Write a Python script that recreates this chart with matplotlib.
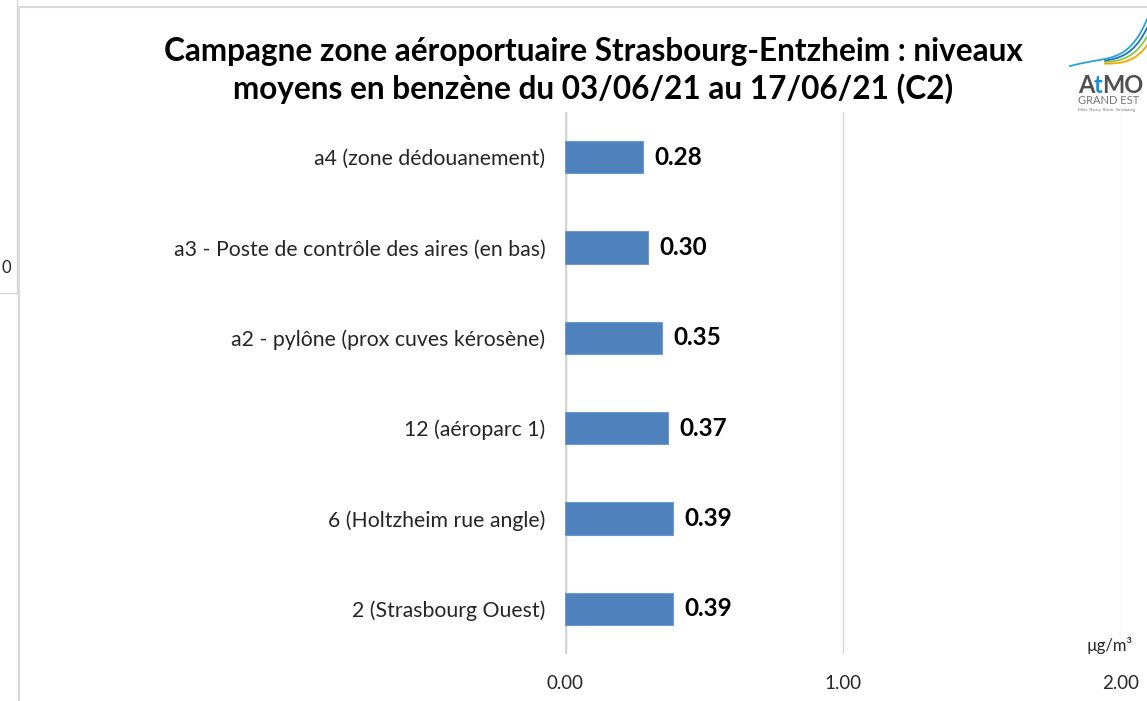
import matplotlib.pyplot as plt
from matplotlib.lines import Line2D
import numpy as np

categories = ["a4 (zone dédouanement)",
              "a3 - Poste de contrôle des aires (en bas)",
              "a2 - pylône (prox cuves kérosène)",
              "12 (aéroparc 1)",
              "6 (Holtzheim rue angle)",
              "2 (Strasbourg Ouest)"]
values = [0.28, 0.30, 0.35, 0.37, 0.39, 0.39]
value_labels = ["0.28", "0.30", "0.35", "0.37", "0.39", "0.39"]
xticks = [0.0, 1.0, 2.0]
xtick_labels = ["0.00", "1.00", "2.00"]

plt.rcParams['font.family'] = ['Lato', 'DejaVu Sans']

W, H = 1147, 701
fig = plt.figure(figsize=(W/100, H/100), dpi=100)

def fx(px): return np.asarray(px) / W
def fy(py): return 1 - np.asarray(py) / H

ax = fig.add_axes([fx(565), fy(654), fx(1121) - fx(565), fy(112) - fy(654)])
y = np.arange(len(categories))
ax.barh(y, values, height=0.36, color='#4F81BD', edgecolor='#6f9ad0', linewidth=0.8, zorder=3)
ax.set_ylim(len(categories) - 0.5, -0.5)
ax.set_xlim(0, 2.0)
ax.set_yticks(y)
ax.set_yticklabels(categories, fontsize=15.3, color='#262626')
ax.tick_params(axis='y', length=0, pad=14)
ax.set_xticks(xticks)
ax.set_xticklabels(xtick_labels, fontsize=13.5, color='#262626')
ax.tick_params(axis='x', length=0, pad=15)
for s in ax.spines.values():
    s.set_visible(False)
ax.grid(axis='x', color='#d9d9d9', linewidth=1, zorder=0)
ax.axvline(0, color='#d0d0d0', linewidth=2.5, zorder=1)
for yi, v, lab in zip(y, values, value_labels):
    ax.text(v + 0.04, yi, lab, va='center', ha='left', fontsize=17.5, fontweight='bold', color='black')

fig.text(fx(593), fy(51), "Campagne zone aéroportuaire Strasbourg-Entzheim : niveaux",
         ha='center', va='center', fontsize=22.7, fontweight='bold')
fig.text(fx(593), fy(89), "moyens en benzène du 03/06/21 au 17/06/21 (C2)",
         ha='center', va='center', fontsize=22.7, fontweight='bold')

fig.text(fx(1110), fy(645), "µg/m³", ha='center', va='center', fontsize=12, color='#262626')

# frame lines
border = '#d9d9d9'
fig.add_artist(Line2D([fx(18), 1], [fy(7), fy(7)], color=border, lw=1.5))
fig.add_artist(Line2D([fx(18.5), fx(18.5)], [fy(7), 0], color=border, lw=1.5))
fig.add_artist(Line2D([fx(17), fx(17)], [1, fy(293)], color=border, lw=1))
fig.add_artist(Line2D([0, fx(17)], [fy(293), fy(293)], color=border, lw=1))
fig.text(fx(1), fy(268), "0", ha='left', va='center', fontsize=12, color='#262626')

# logo (decoration)
t = np.linspace(0, 1, 80)
xs = 1070 + t * 78
ys_blue = 66 - 5 * np.sin(np.pi * t * 1.2) - 52 * t**4
fig.add_artist(Line2D(fx(xs), fy(ys_blue), color='#29a3dc', lw=1.3))
for off, c in [(3, '#1a75bb'), (6, '#8cc63f'), (9, '#f7a600')]:
    t2 = np.linspace(0.45, 1, 50)
    xs2 = 1070 + t2 * 78
    ys2 = 66 + off * t2 - 5 * np.sin(np.pi * t2 * 1.2) - (52 - off * 2) * t2**4
    fig.add_artist(Line2D(fx(xs2), fy(ys2), color=c, lw=1.3))
fig.text(fx(1078), fy(93), "A", ha='left', va='baseline', fontsize=17, fontweight='bold', color='#505050')
fig.text(fx(1094), fy(93), "t", ha='left', va='baseline', fontsize=17, fontweight='bold', color='#1a8fd0')
fig.text(fx(1102), fy(93), "MO", ha='left', va='baseline', fontsize=17, fontweight='bold', color='#505050')
fig.text(fx(1078), fy(104), "GRAND EST", ha='left', va='baseline', fontsize=8, color='#777777')
fig.text(fx(1078), fy(111), "Metz  Nancy  Reims  Strasbourg", ha='left', va='baseline', fontsize=3, color='#777777')

fig.savefig("out.png", dpi=100, facecolor='white')
